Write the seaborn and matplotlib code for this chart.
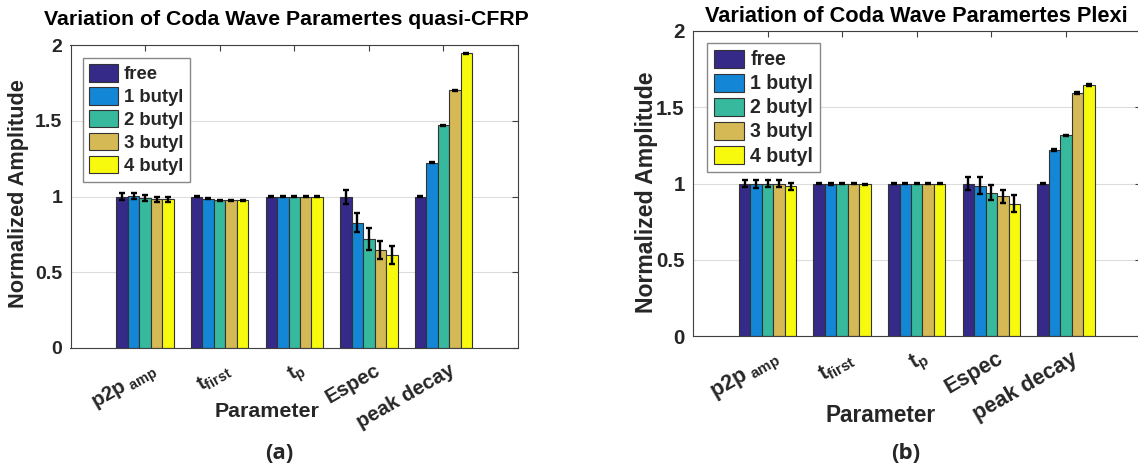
import numpy as np
import pandas as pd
import matplotlib
matplotlib.use("Agg")
import matplotlib.pyplot as plt
import matplotlib.transforms as mtransforms
import seaborn as sns

# Données
params = ['p2p', 'tfirst', 'tp', 'Espec', 'peak decay']
param_labels = ['p2p$_{\\ amp}$', 't$_{first}$', 't$_{p}$', 'Espec', 'peak decay']
conds = ['free', '1 butyl', '2 butyl', '3 butyl', '4 butyl']
colors = ['#352A87', '#1386D6', '#37B99E', '#D4B954', '#F8FA0D']

# quasi-CFRP
cfrp_free = [1.0, 1.0, 1.0, 0.996, 1.0]
cfrp_1 = [1.004, 0.985, 1.0, 0.827, 1.224]
cfrp_2 = [0.99, 0.976, 1.0, 0.718, 1.47]
cfrp_3 = [0.982, 0.975, 1.0, 0.646, 1.702]
cfrp_4 = [0.982, 0.975, 1.0, 0.611, 1.945]
cfrp_free_err = [0.02, 0.003, 0.002, 0.044, 0.003]
cfrp_1_err = [0.022, 0.003, 0.002, 0.064, 0.004]
cfrp_2_err = [0.02, 0.003, 0.002, 0.073, 0.004]
cfrp_3_err = [0.018, 0.003, 0.002, 0.058, 0.004]
cfrp_4_err = [0.017, 0.003, 0.002, 0.059, 0.004]

# Plexi
plexi_free = [1.0, 1.0, 1.0, 1.0, 1.0]
plexi_1 = [0.998, 0.998, 1.0, 0.986, 1.22]
plexi_2 = [0.998, 0.998, 1.0, 0.94, 1.315]
plexi_3 = [0.998, 0.998, 1.0, 0.916, 1.593]
plexi_4 = [0.983, 0.995, 1.0, 0.867, 1.646]
plexi_free_err = [0.022, 0.005, 0.002, 0.044, 0.006]
plexi_1_err = [0.027, 0.005, 0.002, 0.057, 0.005]
plexi_2_err = [0.022, 0.004, 0.002, 0.047, 0.005]
plexi_3_err = [0.022, 0.004, 0.002, 0.041, 0.005]
plexi_4_err = [0.023, 0.004, 0.002, 0.057, 0.005]

sns.set_style('white')
plt.rcParams['font.family'] = ['Liberation Sans', 'DejaVu Sans']
plt.rcParams['font.weight'] = 'bold'
plt.rcParams['axes.labelweight'] = 'bold'
plt.rcParams['mathtext.fontset'] = 'custom'
plt.rcParams['mathtext.rm'] = 'Liberation Sans:bold'
plt.rcParams['mathtext.it'] = 'Liberation Sans:bold'
plt.rcParams['mathtext.bf'] = 'Liberation Sans:bold'
plt.rcParams['mathtext.default'] = 'rm'

TXT = '#262626'


def make_df(vals, errs):
    rows = []
    for c, v, e in zip(conds, vals, errs):
        for p, vv, ee in zip(params, v, e):
            rows.append({'param': p, 'cond': c, 'value': vv, 'err': ee})
    return pd.DataFrame(rows)


def draw(ax, df, title, title_xy, title_fs, xlabel_xy, ylabel_xy, fs, legend_off,
         letter, letter_x):
    sns.barplot(data=df, x='param', y='value', hue='cond', order=params,
                hue_order=conds, palette=colors, width=0.77, gap=0,
                errorbar=None, edgecolor='#333333', linewidth=0.8, ax=ax,
                saturation=1)
    # barres d'erreur
    for cont, c in zip(ax.containers, conds):
        sub = df[df['cond'] == c].set_index('param').loc[params]
        xs = [b.get_x() + b.get_width() / 2 for b in cont]
        ax.errorbar(xs, sub['value'].values, yerr=sub['err'].values, fmt='none',
                    ecolor='black', elinewidth=1.7, capsize=2.5, capthick=1.7, zorder=5)
    ax.set_xlim(-1, 5)
    ax.set_ylim(0, 2)
    ax.set_yticks([0, 0.5, 1, 1.5, 2])
    ax.set_yticklabels(['0', '0.5', '1', '1.5', '2'])
    ax.yaxis.grid(True, color='#dcdcdc', lw=0.8)
    ax.set_axisbelow(True)
    ax.tick_params(axis='both', direction='in', length=4, color='#404040',
                   top=True, right=True, labelsize=fs, labelcolor=TXT, pad=6)
    ax.set_xticks(range(5))
    ax.set_xticklabels([''] * 5)
    for s in ax.spines.values():
        s.set_color('#404040')
        s.set_linewidth(0.8)
    ax.set_xlabel('')
    ax.set_ylabel('Normalized Amplitude', fontsize=fs * 1.12, color=TXT)
    ax.yaxis.set_label_coords(*ylabel_xy)
    ax.yaxis.label.set_va('center')
    # étiquettes des paramètres inclinées
    tr = mtransforms.blended_transform_factory(ax.transData, ax.transAxes)
    for i, lab in enumerate(param_labels):
        ax.text(i + 0.14, -0.07, lab, transform=tr, rotation=30, ha='right',
                va='center', rotation_mode='anchor', fontsize=fs * 1.05, color=TXT)
    ax.text(xlabel_xy[0], xlabel_xy[1], 'Parameter', transform=ax.transAxes,
            ha='center', va='center', fontsize=fs * 1.1, color=TXT)
    ax.text(title_xy[0], title_xy[1], title, transform=ax.transAxes,
            ha='center', va='baseline', fontsize=title_fs, color='black')
    ax.legend(loc='upper left', bbox_to_anchor=legend_off, fontsize=fs * 0.95,
              frameon=True, fancybox=False, edgecolor='#888888', framealpha=1,
              handlelength=1.55, handleheight=1.05, labelspacing=0.22,
              borderpad=0.35, handletextpad=0.32, borderaxespad=0)
    fig.text(letter_x, 0.018, letter, ha='center', va='baseline', fontsize=16,
             fontweight='bold', family=['Open Sans', 'DejaVu Sans'])


fig = plt.figure(figsize=(11.38, 4.67), dpi=100)
ax1 = fig.add_axes([70.5 / 1138, 119 / 467, 447.5 / 1138, 303 / 467])
ax2 = fig.add_axes([693 / 1138, 131 / 467, 447.5 / 1138, 305 / 467])

df1 = make_df([cfrp_free, cfrp_1, cfrp_2, cfrp_3, cfrp_4],
              [cfrp_free_err, cfrp_1_err, cfrp_2_err, cfrp_3_err, cfrp_4_err])
df2 = make_df([plexi_free, plexi_1, plexi_2, plexi_3, plexi_4],
              [plexi_free_err, plexi_1_err, plexi_2_err, plexi_3_err, plexi_4_err])

draw(ax1, df1, 'Variation of Coda Wave Paramertes quasi-CFRP', (0.483, 1.066), 15.3,
     (0.44, -0.21), (-0.116, 0.51), 14, (0.028, 0.957), '(a)', 279 / 1138)
draw(ax2, df2, 'Variation of Coda Wave Paramertes Plexi', (0.5, 1.03), 15.7,
     (0.42, -0.26), (-0.105, 0.472), 14.8, (0.031, 0.961), '(b)', 906 / 1138)

fig.savefig('out.png', dpi=100)
